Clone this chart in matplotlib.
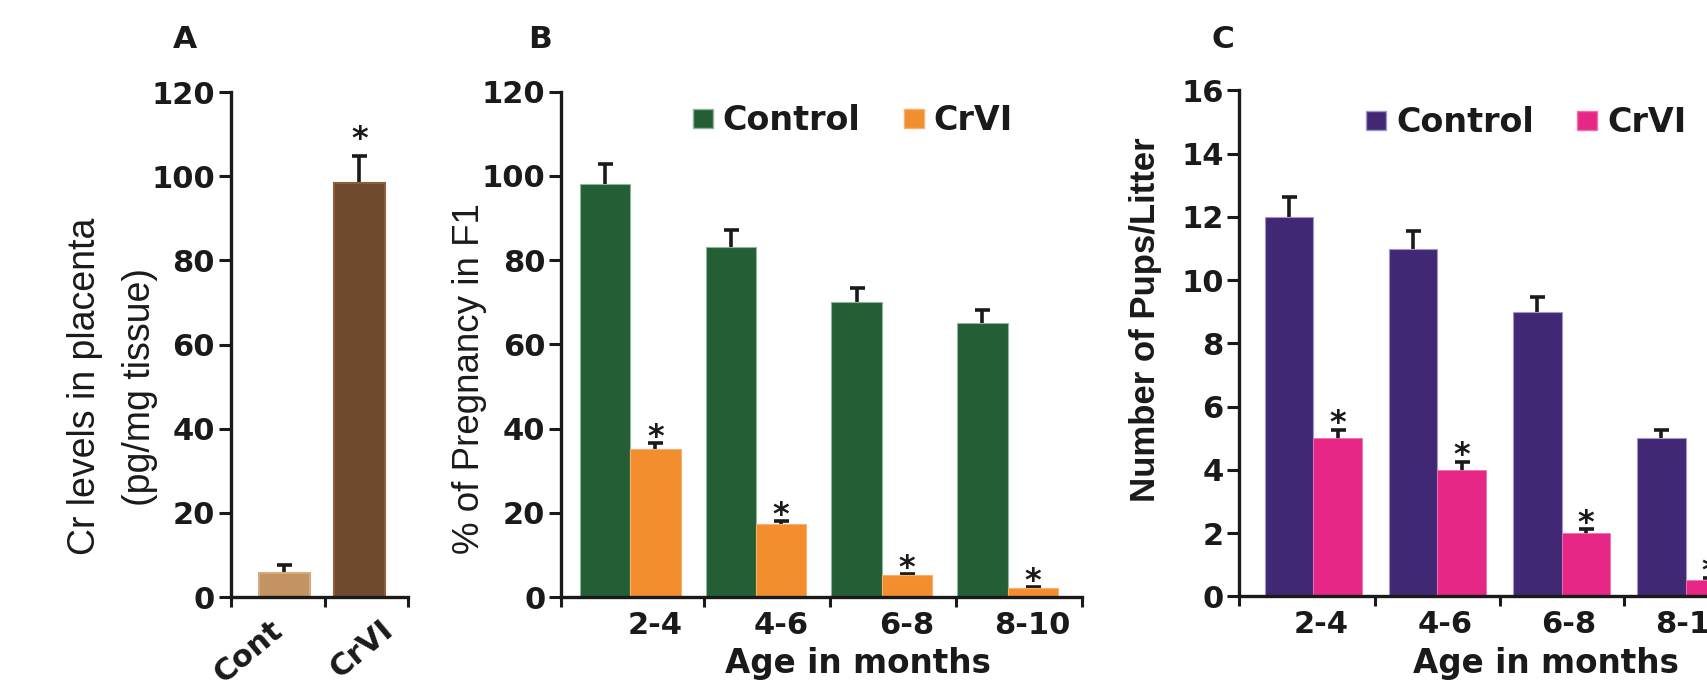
import matplotlib.pyplot as plt
import numpy as np
from matplotlib.patches import Patch

plt.rcParams['font.family'] = 'DejaVu Sans'
plt.rcParams['font.weight'] = 'bold'

# Panel A: Cr levels in placenta
a_groups = ['Cont', 'CrVI']
a_values = [5.8, 98.4]
a_errors = [1.8, 6.4]

# Panels B and C: age groups (months)
ages = ['2-4', '4-6', '6-8', '8-10']
b_control = [98.0, 83.0, 70.1, 65.1]
b_control_err = [4.8, 4.1, 3.3, 3.0]
b_crvi = [35.1, 17.3, 5.2, 2.1]
b_crvi_err = [1.5, 0.8, 0.3, 0.3]

c_control = [12.0, 11.0, 9.0, 5.0]
c_control_err = [0.62, 0.57, 0.46, 0.26]
c_crvi = [5.0, 4.0, 2.0, 0.52]
c_crvi_err = [0.26, 0.24, 0.12, 0.08]

INK = '#1a1a1a'
YLAB = 'Liberation Sans'


def style_axes(ax, ymax, ystep):
    for s in ['top', 'right']:
        ax.spines[s].set_visible(False)
    for s in ['left', 'bottom']:
        ax.spines[s].set_linewidth(2.4)
        ax.spines[s].set_color(INK)
        ax.spines[s].set_zorder(5)
    ax.set_ylim(0, ymax)
    ax.set_yticks(np.arange(0, ymax + 1, ystep))
    ax.tick_params(axis='y', length=8.8, width=2.2, pad=2.5, labelsize=22,
                   colors=INK)
    ax.tick_params(axis='x', which='minor', length=7, width=2.2,
                   direction='out', colors=INK)
    ax.tick_params(axis='x', which='major', length=0, labelsize=22,
                   colors=INK)


def add_stars(ax, xs, vals, errs, offset):
    for x, v, e in zip(xs, vals, errs):
        ax.annotate('*', (x, v + e), xytext=(0, offset),
                    textcoords='offset points', ha='center', va='baseline',
                    fontsize=23, color=INK)


def add_errors(ax, xs, vals, errs):
    # drawn beneath the bars so only the upper half shows
    ax.errorbar(xs, vals, yerr=errs, fmt='none', ecolor=INK, elinewidth=2.6,
                capsize=5.4, capthick=2.6, zorder=2)


fig = plt.figure(figsize=(17.07, 7), dpi=100)

# ---------------- A ----------------
axA = fig.add_axes([0.13515, 0.14714, 0.10369, 0.72143])
xa = np.arange(len(a_groups))
axA.bar(xa, a_values, 0.68, color=['#C39463', '#6F4A2F'],
        edgecolor=['#D4AC80', '#8E5C38'], linewidth=1.5, zorder=3)
add_errors(axA, xa, a_values, a_errors)
add_stars(axA, xa[1:], a_values[1:], a_errors[1:], 6)
style_axes(axA, 120, 20)
axA.set_xlim(-0.715, 1.645)
axA.set_xticks([-0.715, 0.543, 1.645], minor=True)
axA.set_xticks([-0.07, 1.40])
axA.set_xticklabels(a_groups)
axA.tick_params(axis='x', which='major', pad=21)
plt.setp(axA.get_xticklabels(), rotation=40, ha='right', va='center',
         rotation_mode='anchor')
axA.set_ylabel('Cr levels in placenta\n(pg/mg tissue)', family=YLAB,
               weight='normal', fontsize=27, linespacing=1.7, color=INK)
axA.yaxis.set_label_coords(-0.409, 0.4168)

# ---------------- B ----------------
axB = fig.add_axes([0.32865, 0.14714, 0.30510, 0.72214])
xb = np.arange(len(ages))
axB.bar(xb - 0.2, b_control, 0.4, color='#245E35', edgecolor='#8FB59A',
        linewidth=0.8, zorder=3)
axB.bar(xb + 0.2, b_crvi, 0.4, color='#F28E2D', edgecolor='#F6B070',
        linewidth=0.8, zorder=3)
add_errors(axB, xb - 0.2, b_control, b_control_err)
add_errors(axB, xb + 0.2, b_crvi, b_crvi_err)
add_stars(axB, xb + 0.2, b_crvi, b_crvi_err, -2.5)
style_axes(axB, 120, 20)
axB.set_xlim(-0.55, 3.59)
axB.set_xticks([-0.55] + list(xb + 0.59), minor=True)
axB.set_xticks(xb + 0.2)
axB.set_xticklabels(ages)
axB.tick_params(axis='x', which='major', pad=10)
axB.set_xlabel('Age in months', fontsize=23.5, fontweight='bold', color=INK)
axB.xaxis.set_label_coords(0.571, -0.099)
axB.set_ylabel('% of Pregnancy in F1', family=YLAB, weight='normal',
               fontsize=26.5, color=INK)
axB.yaxis.set_label_coords(-0.1415, 0.433)
axB.legend([Patch(facecolor='#245E35', edgecolor='#8FB59A'),
            Patch(facecolor='#F28E2D', edgecolor='#F6B070')],
           ['Control', 'CrVI'], ncol=2, frameon=False, loc='upper left',
           bbox_to_anchor=(0.253, 0.975), borderpad=0, borderaxespad=0,
           handlelength=0.6, handleheight=0.52, handletextpad=0.3,
           columnspacing=1.3, prop=dict(family='DejaVu Sans', weight='bold',
                                        size=24), labelcolor=INK)

# ---------------- C ----------------
axC = fig.add_axes([0.72601, 0.14786, 0.29783, 0.72286])
xc = np.arange(len(ages))
axC.bar(xc - 0.195, c_control, 0.39, color='#402875', edgecolor='#A395CF',
        linewidth=0.8, zorder=3)
axC.bar(xc + 0.195, c_crvi, 0.39, color='#E62786', edgecolor='#EE70AE',
        linewidth=0.6, zorder=3)
add_errors(axC, xc - 0.195, c_control, c_control_err)
add_errors(axC, xc + 0.195, c_crvi, c_crvi_err)
add_stars(axC, xc + 0.195, c_crvi, c_crvi_err, -1.5)
style_axes(axC, 16, 2)
axC.set_xlim(-0.597, 3.5)
axC.set_xticks([-0.597] + list(xc + 0.5), minor=True)
axC.set_xticks(xc + 0.06)
axC.set_xticklabels(ages)
axC.tick_params(axis='x', which='major', pad=10)
axC.set_xlabel('Age in months', fontsize=23.5, fontweight='bold', color=INK)
axC.xaxis.set_label_coords(0.603, -0.0998)
axC.set_ylabel('Number of Pups/Litter', family=YLAB, weight='bold',
               fontsize=25, color=INK)
axC.yaxis.set_label_coords(-0.1526, 0.548)
axC.legend([Patch(facecolor='#402875', edgecolor='#A395CF'),
            Patch(facecolor='#E62786', edgecolor='#EE70AE')],
           ['Control', 'CrVI'], ncol=2, frameon=False, loc='upper left',
           bbox_to_anchor=(0.2494, 0.969), borderpad=0, borderaxespad=0,
           handlelength=0.6, handleheight=0.52, handletextpad=0.3,
           columnspacing=1.3, prop=dict(family='DejaVu Sans', weight='bold',
                                        size=24), labelcolor=INK)

# panel letters
for x, letter in [(0.1084, 'A'), (0.3163, 'B'), (0.7162, 'C')]:
    fig.text(x, 0.931, letter, ha='center', va='baseline', fontsize=22.5,
             color=INK)

fig.savefig('out.png', dpi=100)
